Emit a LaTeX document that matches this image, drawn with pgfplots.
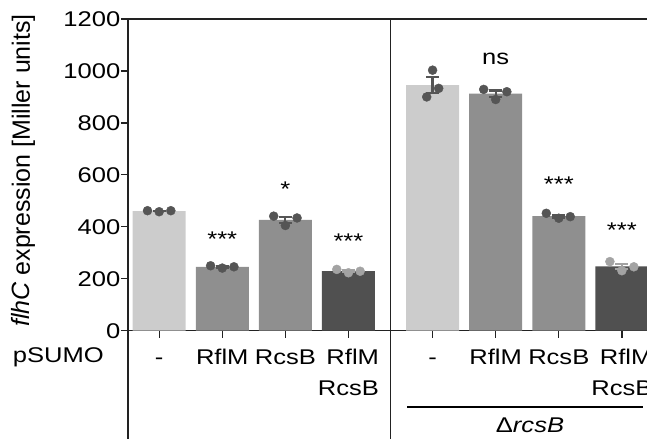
\documentclass[border=0pt]{standalone}
\usepackage{fontspec}
\setmainfont{Liberation Sans}
\newfontfamily\widefont{Liberation Sans}[FakeStretch=1.2]
\usepackage{pgfplots}
\pgfplotsset{compat=1.18}
\newcommand\cf{\widefont\fontsize{21.3bp}{31.3bp}\selectfont}
\newcommand\lf{\fontsize{25bp}{30bp}\selectfont}
\definecolor{barlight}{HTML}{CCCCCC}
\definecolor{barmid}{HTML}{8F8F8F}
\definecolor{bardark}{HTML}{505050}
\definecolor{dotdark}{HTML}{555555}
\definecolor{dotlight}{HTML}{A3A3A3}
\definecolor{axiscol}{HTML}{222222}
\begin{document}
\begin{tikzpicture}[font=\cf]
\useasboundingbox (0,0) rectangle (647bp,439bp);
\clip (0,0) rectangle (647bp,439bp);
\begin{axis}[
  at={(128bp,108.3bp)}, anchor=south west,
  scale only axis, width=520bp, height=311.7bp,
  xmin=-0.494, xmax=7.747, ymin=0, ymax=1200,
  xtick={0,1,2,3,4.333,5.333,6.333,7.333},
  xticklabels={\strut -,\strut RflM,\strut RcsB,{\strut RflM\\\strut RcsB},\strut -,\strut RflM,\strut RcsB,{\strut RflM\\\strut RcsB}},
  ytick={0,200,400,600,800,1000,1200},
  xtick pos=bottom, ytick pos=left,
  tick align=outside, major tick length=7bp,
  axis line style={line width=1.3bp, axiscol},
  every tick/.style={line width=1.3bp, axiscol},
  tick label style={font=\cf},
  xticklabel style={align=right, anchor=north, inner sep=0pt, yshift=-4.7bp},
  yticklabel style={inner sep=0.5bp},
  /pgf/number format/assume math mode=true,
  /pgf/number format/1000 sep={},
  ylabel={\textit{flhC} expression [Miller units]},
  ylabel style={font=\lf, at={(axis description cs:-0.201,0.514)}, anchor=center},
  clip=true,
]
\addplot[ybar, bar width=53bp, bar shift=0pt, fill=barlight, draw=none] coordinates {(0,460.7) (4.333,945.3)};
\addplot[ybar, bar width=53bp, bar shift=0pt, fill=barmid, draw=none] coordinates {(1,245.7) (2,426.7) (5.333,913) (6.333,441.3)};
\addplot[ybar, bar width=53bp, bar shift=0pt, fill=bardark, draw=none] coordinates {(3,229.3) (7.333,247.7)};
% dots
\addplot[only marks, mark=*, mark size=4.5bp, color=dotdark] coordinates {
 (-0.185,462) (0,458) (0.185,462)
 (0.815,250) (1,241) (1.185,246)
 (1.815,441) (2,405) (2.185,434)
 (4.24,900) (4.333,1003) (4.43,933)
 (5.143,929) (5.333,890) (5.51,920)
 (6.135,452) (6.333,433) (6.515,439)};
\addplot[only marks, mark=*, mark size=4.5bp, color=dotlight] coordinates {
 (2.815,236) (3,223) (3.185,229)
 (7.143,266) (7.333,231) (7.523,246)};
% error bars
\addplot[draw=none, mark=none, error bars/.cd, y dir=both, y explicit,
  error bar style={line width=2.2bp, color=dotdark},
  error mark options={rotate=90, mark size=6.5bp, line width=2.2bp, color=dotdark}]
 coordinates {(0,460.7) +- (0,1.3) (1,245.7) +- (0,2.6) (2,426.7) +- (0,11) (4.333,945.3) +- (0,31) (5.333,913) +- (0,11.8) (6.333,441.3) +- (0,5.6)};
\addplot[draw=none, mark=none, error bars/.cd, y dir=both, y explicit,
  error bar style={line width=2.2bp, color=dotlight},
  error mark options={rotate=90, mark size=6.5bp, line width=2.2bp, color=dotlight}]
 coordinates {(3,229.3) +- (0,3.8) (7.333,247.7) +- (0,10)};
% significance
\node[anchor=base] at (axis cs:1,326) {***};
\node[anchor=base] at (axis cs:2,515) {*};
\node[anchor=base] at (axis cs:3,318) {***};
\node[anchor=base] at (axis cs:5.333,1025) {ns};
\node[anchor=base] at (axis cs:6.333,534) {***};
\node[anchor=base] at (axis cs:7.333,358) {***};
\end{axis}
\draw[line width=1.3bp, axiscol] (128bp,108.3bp) -- (128bp,-2bp);
\draw[line width=1.3bp, axiscol] (390.7bp,420bp) -- (390.7bp,-2bp);
\draw[line width=2bp, black] (407bp,32bp) -- (643bp,32bp);
\node[anchor=base] at (530bp,7bp) {Δ\textit{rcsB}};
\node[anchor=base west, inner sep=0pt] at (12.7bp,76bp) {pSUMO};
\end{tikzpicture}
\end{document}
